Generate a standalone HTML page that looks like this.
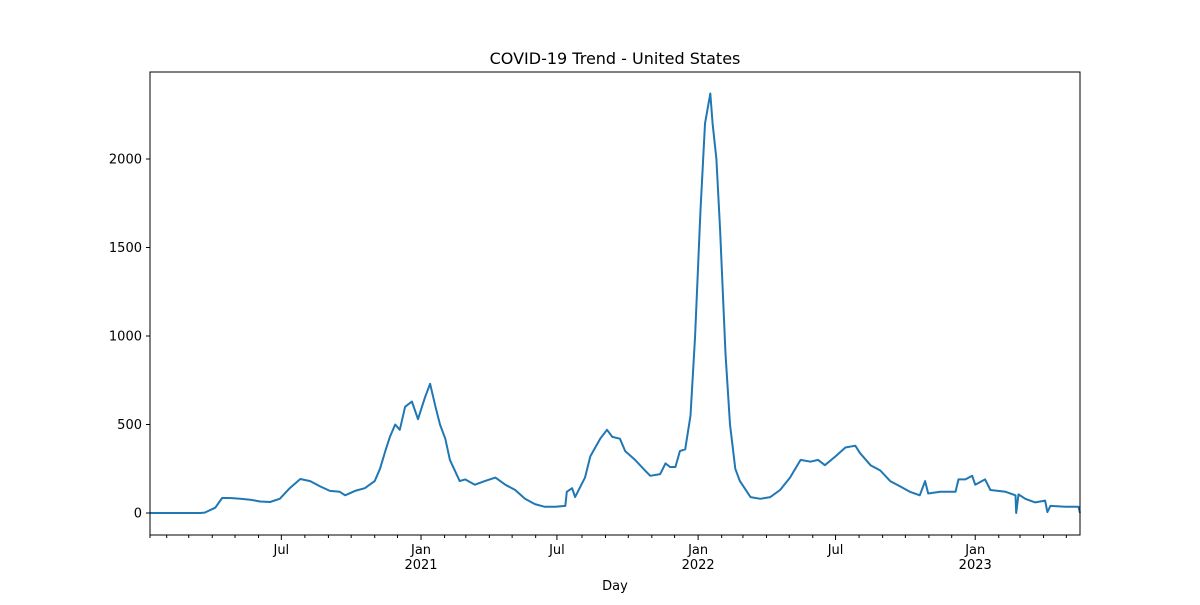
<!DOCTYPE html>
<html><head><meta charset="utf-8"><style>
body{margin:0;background:#fff;}
svg{font-family:"DejaVu Sans","Liberation Sans",sans-serif;}
</style></head><body>
<svg id="chart" width="1200" height="600" xmlns="http://www.w3.org/2000/svg"></svg>
<script>
const dayOffsets=[0,66,72,86,95,105,119,132,145,158,171,184,198,211,224,237,250,257,270,283,296,303,310,316,323,329,336,345,353,362,369,376,382,389,395,408,415,428,441,455,468,481,494,507,520,534,547,549,556,560,573,580,593,602,609,619,626,639,652,659,672,679,685,692,698,705,712,718,725,731,738,741,746,751,758,764,771,777,791,804,817,830,843,857,870,880,889,903,916,929,935,949,962,975,988,1001,1014,1021,1025,1041,1061,1065,1074,1083,1087,1100,1107,1127,1140,1141,1144,1153,1166,1179,1182,1186,1206,1223,1225];
const cases=[0,0,2,30,85,85,80,75,65,62,80,140,192,180,150,125,120,100,125,140,180,250,350,430,500,470,600,630,530,650,730,600,500,420,300,180,190,160,180,200,160,130,80,50,35,35,40,120,140,90,200,320,420,470,430,420,350,300,240,210,220,280,260,260,350,360,550,1000,1700,2200,2370,2200,2000,1600,900,500,250,180,90,80,90,130,200,300,290,300,270,320,370,380,340,270,240,180,150,120,100,180,110,120,120,190,190,210,160,190,130,120,100,0,105,80,60,70,5,40,35,35,0];
const yTicks=[0,500,1000,1500,2000];
const majorTickDays=[173,357,536,722,903,1087];
const majorTickLabels=[["Jul"],["Jan","2021"],["Jul"],["Jan","2022"],["Jul"],["Jan","2023"]];
const minorTickDays=[0,22,51,82,112,143,204,235,265,296,326,388,416,447,477,508,569,600,630,661,691,753,781,812,842,873,934,965,995,1026,1056,1118,1146,1177,1207];
const L=150,R=1080,T=72,B=535,maxDay=1225;
const xS=d=>L+d*(R-L)/maxDay;
const yS=v=>513-v*0.177;
const svg=document.getElementById('chart');
const NS='http://www.w3.org/2000/svg';
function mk(tag,attrs,parent){const e=document.createElementNS(NS,tag);for(const k in attrs)e.setAttribute(k,attrs[k]);(parent||svg).appendChild(e);return e;}
const title=mk('text',{x:615,y:64,'text-anchor':'middle','font-size':16});
title.textContent='COVID-19 Trend - United States';


yTicks.forEach(v=>{
 const y=yS(v);
 const t=mk('line',{x1:L-4,x2:L,y1:y,y2:y,stroke:'#000','stroke-width':1});
 
 
 const lb=mk('text',{x:L-8,y:y+4.5,'text-anchor':'end','font-size':13});
 lb.textContent=v;
 
 
});
minorTickDays.forEach(d=>{
 const x=xS(d);
 const t=mk('line',{x1:x,x2:x,y1:B,y2:B+3,stroke:'#000','stroke-width':1});
 
 
});
majorTickDays.forEach((d,i)=>{
 const x=xS(d);
 const t=mk('line',{x1:x,x2:x,y1:B,y2:B+5,stroke:'#000','stroke-width':1});
 
 
 majorTickLabels[i].forEach((s,j)=>{
  const lb=mk('text',{x:x,y:B+19+j*15,'text-anchor':'middle','font-size':13});
  lb.textContent=s;
  
  
 });
});
const xt=mk('text',{x:615,y:590,'text-anchor':'middle','font-size':13});
xt.textContent='Day';


const pts=dayOffsets.map((d,i)=>xS(d).toFixed(1)+','+yS(cases[i]).toFixed(1)).join(' ');
const line=mk('polyline',{points:pts,fill:'none',stroke:'#1f77b4','stroke-width':2,'stroke-linejoin':'round'});


const frame=mk('rect',{x:L,y:T,width:R-L,height:B-T,fill:'none',stroke:'#000','stroke-width':1});


</script>
</body></html>
